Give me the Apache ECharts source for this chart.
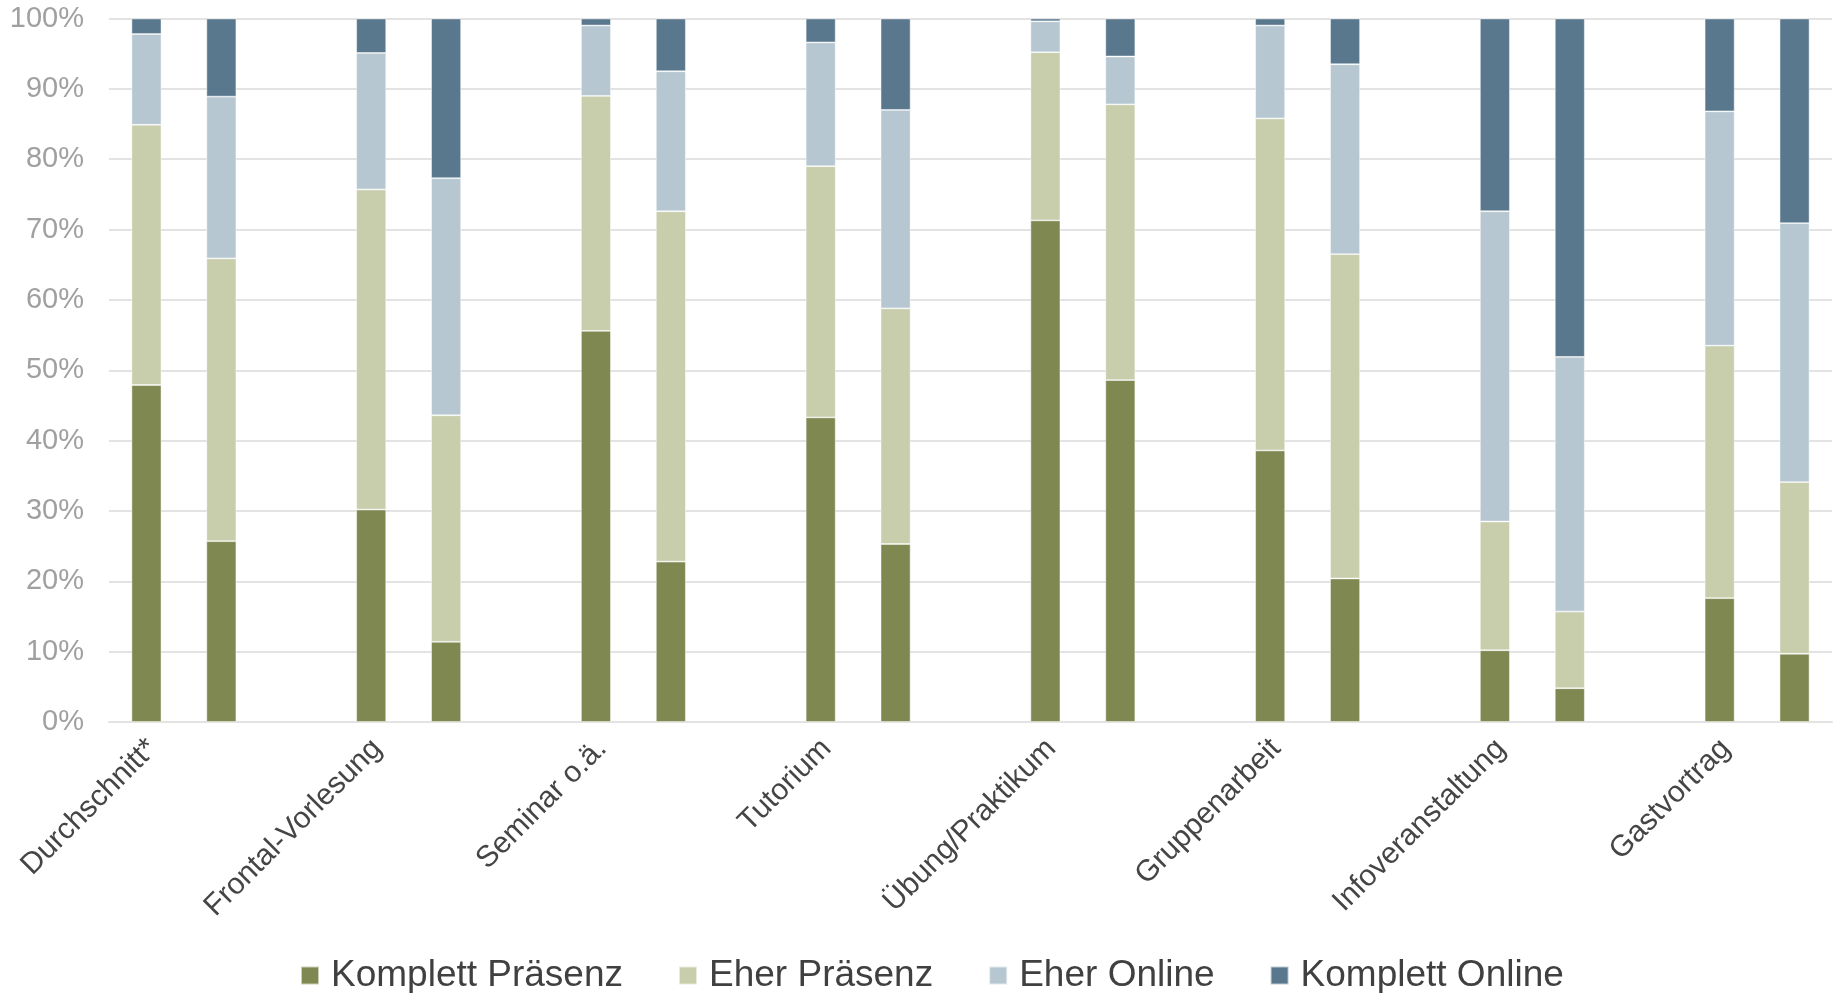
<!DOCTYPE html>
<html>
<head>
<meta charset="utf-8">
<script src="https://cdn.jsdelivr.net/npm/echarts@6/dist/echarts.min.js"></script>
<style>
html,body{margin:0;padding:0;background:#fff;}
#chart{width:1839px;height:993px;}
</style>
</head>
<body>
<div id="chart"></div>
<script>
// Categories (each group has two bars)
var groups = ["Durchschnitt*", "Frontal-Vorlesung", "Seminar o.ä.", "Tutorium", "Übung/Praktikum", "Gruppenarbeit", "Infoveranstaltung", "Gastvortrag"];
var seriesNames = ["Komplett Präsenz", "Eher Präsenz", "Eher Online", "Komplett Online"];
var yTicks = [0, 10, 20, 30, 40, 50, 60, 70, 80, 90, 100];

// Values per group: [first bar, second bar] in percent
var kompletPraesenz = [[47.9, 25.7], [30.2, 11.4], [55.6, 22.8], [43.3, 25.3], [71.3, 48.6], [38.6, 20.4], [10.2, 4.8], [17.6, 9.7]];
var eherPraesenz    = [[37.0, 40.2], [45.5, 32.2], [33.4, 49.8], [35.7, 33.5], [23.9, 39.2], [47.2, 46.1], [18.3, 10.9], [35.9, 24.4]];
var eherOnline      = [[12.9, 23.0], [19.4, 33.7], [10.0, 19.9], [17.6, 28.2], [4.4, 6.8], [13.2, 27.0], [44.1, 36.2], [33.3, 36.8]];
var komplettOnline  = [[2.2, 11.1], [4.9, 22.7], [1.0, 7.5], [3.4, 13.0], [0.4, 5.4], [1.0, 6.5], [27.4, 48.1], [13.2, 29.1]];

var colors = ["#7f8850", "#c8cdac", "#b6c7d1", "#5a788d"];

// Build category slots: bar1, bar2, gap (last group without gap)
var cats = [];
groups.forEach(function (g, i) {
  cats.push(g); cats.push("");
  if (i < groups.length - 1) cats.push(" ");
});
function expand(arr) {
  var out = [];
  arr.forEach(function (pair, i) {
    out.push(pair[0]); out.push(pair[1]);
    if (i < arr.length - 1) out.push('-');
  });
  return out;
}
var allData = [kompletPraesenz, eherPraesenz, eherOnline, komplettOnline];

var chart = echarts.init(document.getElementById('chart'));
var font = "'Liberation Sans', Arial, sans-serif";
chart.setOption({
  animation: false,
  backgroundColor: '#fff',
  textStyle: {fontFamily: font},
  grid: {left: 109, right: 7, top: 18.5, bottom: 271, containLabel: false},
  legend: {
    data: seriesNames,
    left: 295, top: 952,
    icon: 'rect', itemWidth: 18, itemHeight: 18, itemGap: 55,
    textStyle: {fontSize: 37, color: '#404040', fontFamily: font, padding: [0, 0, 0, 7]}
  },
  xAxis: {
    type: 'category', data: cats,
    axisLine: {show: true, lineStyle: {color: '#e3e3e3', width: 2}},
    axisTick: {show: false},
    axisLabel: {
      interval: 0, rotate: 45, fontSize: 30, color: '#454545', fontFamily: font, margin: 16,
      formatter: function (v) { return v.trim() ? '{a|' + v + '}' : ''; },
      rich: {a: {fontSize: 30, color: '#454545', fontFamily: font, padding: [17, 0, 0, 0]}}
    }
  },
  yAxis: {
    type: 'value', min: yTicks[0], max: yTicks[yTicks.length - 1], interval: 10,
    axisLine: {show: false}, axisTick: {show: false},
    splitLine: {lineStyle: {color: '#e3e3e3', width: 2}},
    axisLabel: {formatter: '{value}%', fontSize: 29, color: '#a0a0a0', fontFamily: font, margin: 25}
  },
  series: seriesNames.map(function (n, i) {
    return {
      name: n, type: 'bar', stack: 'total', barWidth: '40%',
      itemStyle: {color: colors[i], borderColor: 'rgba(255,255,255,0.6)', borderWidth: 0.8},
      data: expand(allData[i])
    };
  })
});
</script>
</body>
</html>
